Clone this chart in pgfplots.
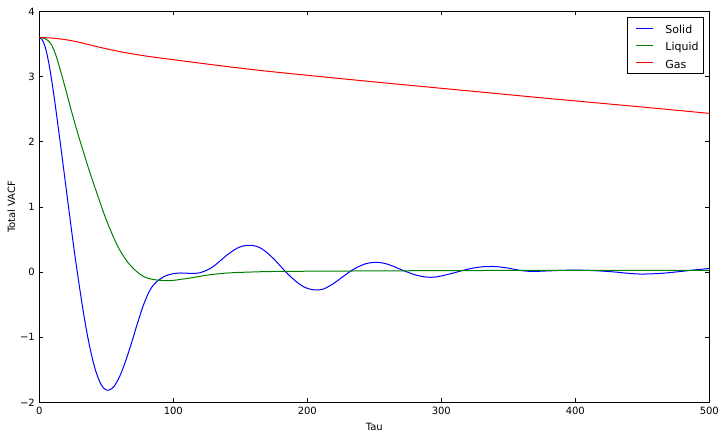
\documentclass[border=0pt]{standalone}
\usepackage{fontspec}
\setmainfont{DejaVu Sans}
\usepackage{pgfplots}
\pgfplotsset{compat=1.18}
\newcommand\lstrut{\rule[-3.85pt]{0pt}{15.7pt}}
\begin{document}
\begin{tikzpicture}[x=1pt,y=1pt]
\begin{axis}[
  scale only axis,
  width=670pt, height=391pt,
  xmin=0, xmax=500, ymin=-2, ymax=4,
  xtick={0,100,200,300,400,500},
  ytick={-2,-1,0,1,2,3,4},
  yticklabels={−2,−1,0,1,2,3,4},
  xticklabels={0,100,200,300,400,500},
  tick align=inside,
  major tick length=4pt,
  tick style={black, line width=0.6pt},
  axis line style={black, line width=1pt},
  ticklabel style={font=\fontsize{10}{12}\selectfont},
  xticklabel style={yshift=-1pt},
  yticklabel style={xshift=-1pt},
  xlabel={Tau}, ylabel={Total VACF},
  label style={font=\fontsize{10}{12}\selectfont},
  xlabel style={yshift=-2pt},
  ylabel style={yshift=-2pt},
  legend style={at={(rel axis cs:1,1)}, anchor=north east, xshift=-6pt, yshift=-6pt,
    draw=black, line width=0.8pt, font=\fontsize{11}{12}\selectfont,
    inner xsep=2.3pt, inner ysep=1.7pt, row sep=0pt},
  legend cell align=left,
  legend image code/.code={\path (0pt,0pt) (32.6pt,0pt); \draw[#1, line width=1pt] (6pt,0pt) -- (22.3pt,0pt);},
  every axis plot/.append style={line width=1pt},
]
\addplot[blue, smooth, tension=0.5] coordinates {
(0,3.60) (2,3.57) (4,3.48) (6,3.32) (8,3.10) (10,2.84) (12,2.55) (14,2.24) (16,1.93)
(18,1.61) (20,1.29) (22,0.97) (24,0.65) (26,0.34) (28,0.05) (30,-0.23) (32,-0.50)
(34,-0.75) (36,-0.98) (38,-1.18) (40,-1.36) (42,-1.51) (44,-1.63) (46,-1.72) (48,-1.78)
(50,-1.81) (52,-1.81) (54,-1.79) (56,-1.75) (58,-1.68) (60,-1.60) (62,-1.50) (64,-1.39)
(66,-1.27) (68,-1.14) (70,-1.01) (72,-0.87) (74,-0.74) (76,-0.61) (78,-0.49) (80,-0.39)
(82,-0.30) (84,-0.23) (86,-0.18) (88,-0.14) (90,-0.11) (93,-0.07) (96,-0.045) (100,-0.025)
(104,-0.015) (108,-0.015) (112,-0.02) (116,-0.02) (120,-0.01) (124,0.02) (128,0.06)
(132,0.12) (136,0.19) (140,0.26) (144,0.32) (148,0.37) (152,0.40) (156,0.41) (160,0.405)
(164,0.38) (168,0.33) (172,0.26) (176,0.18) (180,0.09) (184,0.00) (188,-0.08) (192,-0.15)
(196,-0.21) (200,-0.25) (204,-0.27) (208,-0.275) (212,-0.26) (216,-0.22) (220,-0.17)
(224,-0.11) (228,-0.05) (232,0.01) (236,0.06) (240,0.10) (244,0.13) (248,0.145) (252,0.15)
(256,0.14) (260,0.12) (264,0.09) (268,0.055) (272,0.02) (276,-0.01) (280,-0.04) (284,-0.06)
(288,-0.075) (292,-0.08) (296,-0.075) (300,-0.06) (305,-0.035) (310,-0.01) (315,0.02)
(320,0.045) (325,0.065) (330,0.08) (335,0.085) (340,0.085) (345,0.075) (350,0.06)
(355,0.04) (360,0.022) (365,0.012) (370,0.01) (380,0.018) (390,0.026) (400,0.03)
(410,0.025) (420,0.015) (430,0.0) (440,-0.02) (448,-0.03) (456,-0.028) (464,-0.02)
(472,-0.005) (480,0.012) (490,0.035) (500,0.055)
};
\addlegendentry{\lstrut Solid}
\addplot[color={rgb,1:red,0;green,0.5;blue,0}, smooth, tension=0.5] coordinates {
(0,3.60) (3,3.59) (6,3.56) (9,3.49) (12,3.35) (15,3.15) (18,2.93) (21,2.70) (24,2.47)
(27,2.25) (30,2.04) (33,1.84) (36,1.64) (39,1.45) (42,1.27) (45,1.09) (48,0.91) (51,0.75)
(54,0.60) (57,0.46) (60,0.34) (63,0.24) (66,0.15) (69,0.08) (72,0.02) (75,-0.03)
(78,-0.07) (81,-0.095) (84,-0.11) (87,-0.12) (90,-0.127) (94,-0.132) (98,-0.13)
(102,-0.123) (106,-0.11) (110,-0.10) (115,-0.083) (120,-0.065) (126,-0.045) (132,-0.03)
(140,-0.015) (150,-0.005) (165,0.005) (180,0.01) (220,0.015) (300,0.022) (400,0.027) (500,0.025)
};
\addlegendentry{\lstrut Liquid}
\addplot[red, smooth, tension=0.5] coordinates {
(0,3.60) (10,3.59) (20,3.565) (30,3.525) (45,3.45) (62,3.375) (78,3.32) (94,3.275)
(126,3.19) (158,3.11) (190,3.04) (254,2.91) (318,2.785) (382,2.66) (446,2.54) (500,2.435)
};
\addlegendentry{\lstrut Gas}
\end{axis}
\pgfresetboundingbox
\path (current axis.south west) ++(-39.3pt,-35.7pt) coordinate (bl);
\path (current axis.north east) ++(14.7pt,11.4pt) coordinate (tr);
\path[use as bounding box] (bl) rectangle (tr);
\end{tikzpicture}
\end{document}
